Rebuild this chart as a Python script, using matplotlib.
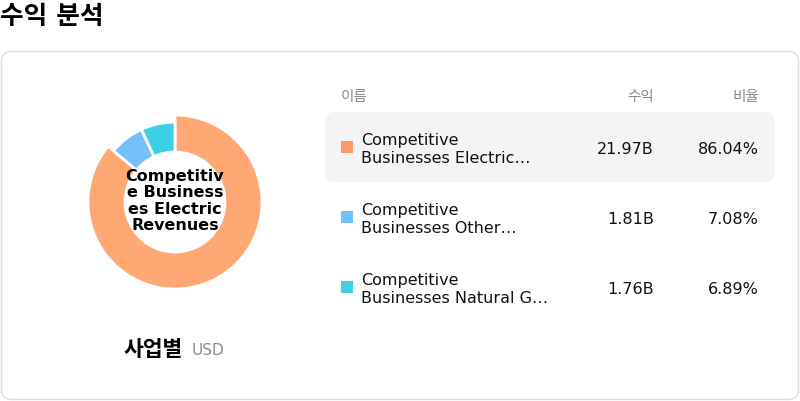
import matplotlib.pyplot as plt
from matplotlib.patches import FancyBboxPatch, Rectangle

plt.rcParams['font.family'] = ['DejaVu Sans', 'Noto Sans CJK KR']

# data
names = ['Competitive\nBusinesses Electric…',
         'Competitive\nBusinesses Other…',
         'Competitive\nBusinesses Natural G…']
revenues = [21.97, 1.81, 1.76]          # billions USD
shares = [86.04, 7.08, 6.89]            # percent
donut_colors = ['#FFA873', '#74C0FC', '#3DCFE6']
square_colors = ['#FF9A68', '#74C0FC', '#3DCFE6']
center_label = 'Competitiv\ne Business\nes Electric\nRevenues'

W, H = 800, 402
fig = plt.figure(figsize=(W / 100, H / 100), dpi=100)

# full-figure pixel axes for card / table
ax = fig.add_axes([0, 0, 1, 1])
ax.set_xlim(0, W)
ax.set_ylim(H, 0)
ax.axis('off')

ax.text(0, 17, '수익 분석', fontsize=18.5, fontweight='bold', va='center', ha='left')

card = FancyBboxPatch((1.5, 52.5), 797, 348, boxstyle='round,pad=0,rounding_size=10',
                      fc='white', ec='#DEDCE8', lw=1)
ax.add_patch(card)

# table header
ax.text(341, 96.5, '이름', fontsize=10.5, color='#8A8A8A', va='center', ha='left')
ax.text(654, 96.5, '수익', fontsize=10.5, color='#8A8A8A', va='center', ha='right')
ax.text(759, 96.5, '비율', fontsize=10.5, color='#8A8A8A', va='center', ha='right')

# highlighted first row
hl = FancyBboxPatch((325, 113), 450, 70, boxstyle='round,pad=0,rounding_size=10',
                    fc='#F4F4F4', ec='none')
ax.add_patch(hl)

row_y = [148, 218, 288]
for i, (nm, rv, sh) in enumerate(zip(names, revenues, shares)):
    y = row_y[i]
    ax.add_patch(Rectangle((341, y - 6), 12, 12, fc=square_colors[i], ec='none'))
    ax.text(361, y + 1.5, nm, fontsize=11.5, va='center', ha='left', linespacing=1.25,
            color='#111111')
    ax.text(654, y + 1.5, f'{rv:.2f}B', fontsize=11.5, va='center', ha='right', color='#111111')
    ax.text(759, y + 1.5, f'{sh:.2f}%', fontsize=11.5, va='center', ha='right', color='#111111')

# bottom caption
ax.text(183, 350, '사업별', fontsize=15.5, fontweight='bold', va='center', ha='right')
ax.text(192, 351, 'USD', fontsize=11, color='#8A8A8A', va='center', ha='left')

# donut
cx, cy, S = 175, 203, 220
pax = fig.add_axes([(cx - S / 2) / W, 1 - (cy + S / 2) / H, S / W, S / H])
wedges, _ = pax.pie(shares, colors=donut_colors, startangle=90, counterclock=False,
                    radius=80, wedgeprops=dict(width=30, edgecolor='white', linewidth=2))
wedges[0].set_radius(87)
wedges[0].set_width(37)
pax.set_xlim(-S / 2, S / 2)
pax.set_ylim(-S / 2, S / 2)
pax.set_aspect('equal')
pax.axis('off')
pax.text(0, 2, center_label, fontsize=11.5, fontweight='bold', ha='center', va='center',
         linespacing=1.1)

fig.savefig('out.png', dpi=100)
